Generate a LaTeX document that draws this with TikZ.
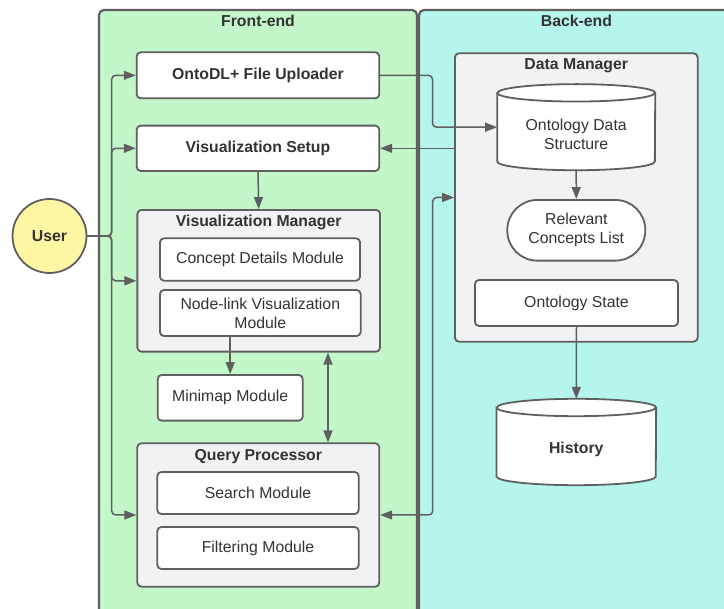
\documentclass[tikz,border=0pt]{standalone}
\usepackage{fontspec}
\setmainfont{Liberation Sans}
\usetikzlibrary{arrows.meta,calc}
\definecolor{fegreen}{HTML}{C3F7C9}
\definecolor{becyan}{HTML}{B5F5EB}
\definecolor{boxgray}{HTML}{F1F2F4}
\definecolor{lineg}{HTML}{5F5F5F}
\definecolor{txt}{HTML}{333333}
\definecolor{useryel}{HTML}{FFF6A3}
\newcommand{\fs}{\fontsize{15.8}{19}\selectfont}
\newcommand{\drawcyl}[3]{%
  \draw[cylst] ($(#1.north west)+(0,#3)$) -- ($(#1.south west)-(0,#3)$)
    arc[start angle=180,end angle=360,x radius=#2pt,y radius=#3pt]
    -- ($(#1.north east)+(0,#3)$)
    arc[start angle=0,end angle=180,x radius=#2pt,y radius=#3pt] -- cycle;
  \draw[cylst,fill=none] ($(#1.north west)+(0,#3)$)
    arc[start angle=180,end angle=360,x radius=#2pt,y radius=#3pt];}
\tikzset{
  >={Triangle[length=12pt,width=9pt]},
  panel/.style={draw=lineg, line width=2.2pt, rounded corners=5pt},
  box/.style={draw=lineg, line width=1.8pt, fill=white, rounded corners=4pt,
    text=txt, font=\fs, inner sep=0pt, align=center},
  gbox/.style={box, fill=boxgray},
  title/.style={text=txt, font=\fs\bfseries, inner sep=0pt},
  plain/.style={text=txt, font=\fs, inner sep=0pt, align=center},
  ghost/.style={inner sep=0pt},
  cylst/.style={draw=lineg, line width=1.8pt, fill=white},
  conn/.style={draw=lineg, line width=1.5pt, rounded corners=4pt, ->},
  both/.style={draw=lineg, line width=1.5pt, <->},
}
\begin{document}
\begin{tikzpicture}[x=1pt,y=-1pt]
\clip (0,0) rectangle (724,609);
\fill[white] (0,0) rectangle (724,609);
% panels
\draw[panel, fill=fegreen] (99,10) rectangle (417,660);
\draw[panel, fill=becyan] (419,10) rectangle (780,660);
\node[title] (fetitle) at (258,21.2) {Front-end};
\node[title] (betitle) at (576.5,21.2) {Back-end};
% user
\node[circle, draw=lineg, line width=1.8pt, fill=useryel, minimum size=74pt,
  inner sep=0pt, text=txt, font=\fs\bfseries] (user) at (49.5,236) {User};
% front-end boxes
\node[box, font=\fs\bfseries, minimum width=242.6pt, minimum height=46pt] (ontodl) at (258,75.3) {OntoDL+ File Uploader};
\node[box, font=\fs\bfseries, minimum width=242.6pt, minimum height=45.3pt] (vissetup) at (258,148.3) {Visualization Setup};
\node[gbox, minimum width=242.7pt, minimum height=141.7pt] (vismgr) at (258.7,280.8) {};
\node[title] (vmtitle) at (258.7,222.5) {Visualization Manager};
\node[box, minimum width=200pt, minimum height=42.4pt] (concept) at (260,259.5) {Concept Details Module};
\node[box, minimum width=200.7pt, minimum height=46pt] (nodelink) at (260.3,313) {Node-link Visualization\\Module};
\node[box, minimum width=145pt, minimum height=45.7pt] (minimap) at (230.2,397.8) {Minimap Module};
\node[gbox, minimum width=242pt, minimum height=143.4pt] (qp) at (258.3,515) {};
\node[title] (qptitle) at (258.3,456.5) {Query Processor};
\node[box, minimum width=201.4pt, minimum height=42pt] (search) at (258,493) {Search Module};
\node[box, minimum width=201.4pt, minimum height=42pt] (filter) at (258,548) {Filtering Module};
% back-end
\node[gbox, minimum width=242.7pt, minimum height=288.4pt] (dm) at (576.3,197.5) {};
\node[title] (dmtitle) at (576.3,65.8) {Data Manager};
\node[ghost, minimum width=157.7pt, minimum height=85.7pt] (ods) at (576.2,127.2) {};
\drawcyl{ods}{78.85}{8.7}
\node[plain] (odstext) at (576.2,134.3) {Ontology Data\\Structure};
\node[box, rounded corners=30pt, minimum width=138pt, minimum height=60.7pt] (relevant) at (576.3,230.3) {Relevant\\Concepts List};
\node[box, minimum width=203pt, minimum height=46pt] (ostate) at (576.5,303) {Ontology State};
\node[ghost, minimum width=159.3pt, minimum height=86pt] (history) at (576.3,442) {};
\drawcyl{history}{79.65}{8.7}
\node[title] (histtext) at (576.3,449.5) {History};
% connectors
\coordinate (ujoin) at (111.7,236);
\draw[conn] (user.east) -- (ujoin) |- (ontodl.west);
\draw[conn] (user.east) -- (ujoin) |- (vissetup.west);
\draw[conn] (user.east) -- (ujoin) |- (vismgr.west);
\draw[conn] (user.east) -- (ujoin) |- (qp.west);
\coordinate (ojog) at (432.5,75.3);
\draw[conn] (ontodl.east) -- (ojog) |- (ods.west);
\draw[conn] (dm.west |- vissetup.east) -- (vissetup.east);
\coordinate (qjog) at (432.7,515);
\draw[conn, <->] (qp.east) -- (qjog) |- (dm.west);
\draw[conn] (vissetup.south) -- (vismgr.north);
\draw[conn] (minimap.north |- nodelink.south) -- (minimap.north);
\coordinate (vq) at (328,400);
\draw[both] (vq |- vismgr.south) -- (vq |- qp.north);
\draw[conn] (ods.south) -- (relevant.north);
\draw[conn] (ostate.south) -- (history.north);
\end{tikzpicture}
\end{document}
